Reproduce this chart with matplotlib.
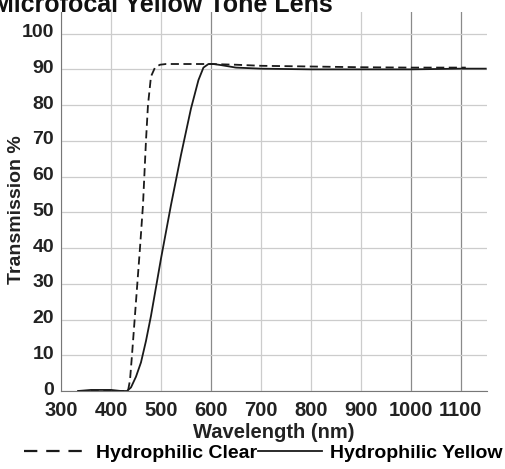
import matplotlib
matplotlib.use('Agg')
import matplotlib.pyplot as plt
import matplotlib.transforms as mtrans
from matplotlib.lines import Line2D

# Hydrophilic Clear (dashed)
clear_nm = [334, 380, 420, 434, 438, 442, 450, 458, 464, 470, 474, 480, 488, 498, 510, 550, 600, 650, 700, 800, 900, 1000, 1110]
clear_t = [0, 0, 0, 0, 3, 10, 25, 40, 52, 70, 80, 88, 90.5, 91.3, 91.5, 91.5, 91.5, 91.3, 91.0, 90.8, 90.6, 90.5, 90.5]

# Hydrophilic Yellow (solid)
yellow_nm = [334, 360, 400, 420, 432, 440, 450, 460, 470, 480, 500, 520, 540, 560, 575, 585, 595, 605, 620, 650, 700, 800, 900, 1000, 1100, 1150]
yellow_t = [0, 0.3, 0.3, 0, 0, 1, 4, 8, 14, 21, 37, 52, 66, 79, 87, 90.5, 91.5, 91.5, 91.2, 90.5, 90.2, 90.0, 90.0, 90.0, 90.2, 90.2]

xticks = [300, 400, 500, 600, 700, 800, 900, 1000, 1100]
yticks = [0, 10, 20, 30, 40, 50, 60, 70, 80, 90, 100]

plt.rcParams['font.family'] = ['Liberation Sans', 'DejaVu Sans']
plt.rcParams['font.weight'] = 'bold'

fig = plt.figure(figsize=(5.06, 4.69), dpi=100)
ax = fig.add_axes([0.1206, 0.1663, 0.8414, 0.8077])

ax.plot(yellow_nm, yellow_t, color='#1a1a1a', lw=1.3)
ax.plot(clear_nm, clear_t, color='#1a1a1a', lw=1.3, linestyle=(0, (4.5, 2.5)))

ax.set_xlim(300, 1152)
ax.set_ylim(0, 106)
ax.set_xticks(xticks)
ax.set_yticks(yticks)
ax.tick_params(axis='x', length=0, labelsize=14.5, pad=7)
ax.tick_params(axis='y', length=0, labelsize=14, pad=5)
for lab in ax.get_xticklabels() + ax.get_yticklabels():
    lab.set_fontweight('bold')
    lab.set_color('#222222')
# y labels sit a little above their gridlines in the scan
up = mtrans.ScaledTranslation(0, 3 / 100, fig.dpi_scale_trans)
for lab in ax.get_yticklabels():
    lab.set_transform(lab.get_transform() + up)

ax.grid(True, color='#cccccc', lw=0.9)
for gl, x in zip(ax.get_xgridlines(), xticks):
    if x in (600, 1000, 1100):
        gl.set_color('#8a8a8a')
ax.set_axisbelow(True)

for s in ['top', 'right']:
    ax.spines[s].set_visible(False)
ax.spines['left'].set_color('#777777')
ax.spines['bottom'].set_color('#777777')

ax.set_xlabel('Wavelength (nm)', fontsize=14.5, fontweight='bold', color='#222222', labelpad=2)
ax.set_ylabel('Transmission %', fontsize=14, fontweight='bold', color='#222222')
ax.yaxis.set_label_coords(-0.085, 0.478)

fig.text(333 / 506, 1 - 12 / 469, 'Microfocal Yellow Tone Lens', ha='right', va='baseline',
         fontsize=18, fontweight='bold', color='#111111')

h_clear = Line2D([], [], color='#1a1a1a', lw=1.6, linestyle=(0, (6, 4)))
h_yellow = Line2D([], [], color='#1a1a1a', lw=1.3)
fig.legend([h_clear, h_yellow], ['Hydrophilic Clear', 'Hydrophilic Yellow'],
           loc='center', bbox_to_anchor=(0.52, 0.034), ncol=2, frameon=False,
           prop={'size': 14, 'weight': 'bold'}, handlelength=3.3, handletextpad=0.4,
           columnspacing=0.05, borderpad=0)

fig.savefig('out.png', dpi=100)
